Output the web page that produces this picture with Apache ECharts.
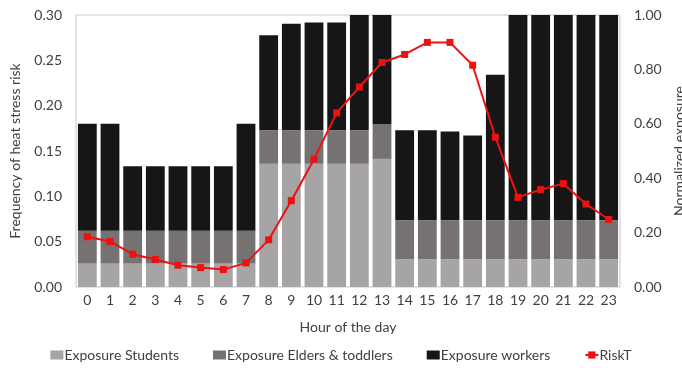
<!DOCTYPE html>
<html>
<head>
<meta charset="utf-8">
<script src="https://cdn.jsdelivr.net/npm/echarts@6/dist/echarts.min.js"></script>
<style>html,body{margin:0;padding:0;background:#fff;}#c{width:682px;height:368px;}</style>
</head>
<body>
<div id="c"></div>
<script>
var hours = ['0','1','2','3','4','5','6','7','8','9','10','11','12','13','14','15','16','17','18','19','20','21','22','23'];
var students = [0.086,0.086,0.086,0.086,0.086,0.086,0.086,0.086,0.453,0.453,0.453,0.453,0.453,0.471,0.102,0.102,0.102,0.102,0.102,0.102,0.102,0.102,0.102,0.102];
var elders = [0.121,0.121,0.121,0.121,0.121,0.121,0.121,0.121,0.123,0.123,0.123,0.123,0.123,0.126,0.144,0.144,0.144,0.144,0.144,0.144,0.144,0.144,0.144,0.144];
var workers = [0.393,0.393,0.237,0.237,0.237,0.237,0.237,0.393,0.350,0.392,0.396,0.396,0.500,0.500,0.330,0.330,0.326,0.311,0.534,0.800,0.800,0.800,0.800,0.800];
var riskT = [0.0554,0.0502,0.0362,0.0303,0.0240,0.0214,0.0192,0.0266,0.0520,0.0952,0.1410,0.1920,0.2206,0.2476,0.2565,0.2698,0.2698,0.2446,0.1653,0.0989,0.1074,0.1140,0.0915,0.0745];
var leftTicks = {min:0, max:0.30, interval:0.05};
var rightTicks = {min:0, max:1.00, interval:0.20};

var FONT = 'Lato';
var TXT = '#404040';
var FS = 14;
var chart = echarts.init(document.getElementById('c'), null, {renderer:'canvas'});
chart.setOption({
  animation:false,
  textStyle:{fontFamily:FONT},
  grid:{left:76, right:62, top:15, bottom:81, show:true, borderColor:'#c8c8c8', borderWidth:1, backgroundColor:'transparent', outerBoundsMode:'none', containLabel:false},
  legend:{
    bottom:1, left:'center', itemGap:34, itemWidth:13, itemHeight:9,
    textStyle:{fontFamily:FONT, fontSize:FS, color:TXT, padding:[0,0,0,-4]},
    data:[
      {name:'Exposure Students', icon:'rect'},
      {name:'Exposure Elders & toddlers', icon:'rect'},
      {name:'Exposure workers', icon:'rect'},
      {name:'RiskT'}
    ]
  },
  xAxis:{
    type:'category', data:hours,
    axisLine:{show:false}, axisTick:{show:false},
    axisLabel:{fontSize:FS, color:TXT, margin:6, fontFamily:FONT},
    name:'Hour of the day', nameLocation:'middle', nameGap:33,
    nameTextStyle:{fontSize:FS, color:TXT, fontFamily:FONT}
  },
  yAxis:[
    {type:'value', min:leftTicks.min, max:leftTicks.max, interval:leftTicks.interval,
     axisLine:{show:false}, axisTick:{show:false}, splitLine:{show:false},
     axisLabel:{fontSize:FS, color:TXT, margin:14, fontFamily:FONT, formatter:function(v){return v.toFixed(2);}},
     name:'Frequency of heat stress risk', nameLocation:'middle', nameGap:54, nameRotate:90,
     nameTextStyle:{fontSize:FS, color:TXT, fontFamily:FONT}},
    {type:'value', min:rightTicks.min, max:rightTicks.max, interval:rightTicks.interval,
     axisLine:{show:false}, axisTick:{show:false}, splitLine:{show:false},
     axisLabel:{fontSize:FS, color:TXT, margin:14, fontFamily:FONT, formatter:function(v){return v.toFixed(2);}},
     name:'Normalized exposure', nameLocation:'middle', nameGap:50, nameRotate:90,
     nameTextStyle:{fontSize:FS, color:TXT, fontFamily:FONT}}
  ],
  series:[
    {name:'Exposure Students', type:'bar', stack:'e', yAxisIndex:1, data:students, itemStyle:{color:'#a6a4a4'}, barCategoryGap:'17%', clip:true},
    {name:'Exposure Elders & toddlers', type:'bar', stack:'e', yAxisIndex:1, data:elders, itemStyle:{color:'#767272'}, barCategoryGap:'17%', clip:true},
    {name:'Exposure workers', type:'bar', stack:'e', yAxisIndex:1, data:workers, itemStyle:{color:'#161616'}, barCategoryGap:'17%', clip:true},
    {name:'RiskT', type:'line', yAxisIndex:0, data:riskT, symbol:'rect', symbolSize:7,
     lineStyle:{color:'#ee1111', width:2}, itemStyle:{color:'#ee1111'}, z:5}
  ]
});
</script>
</body>
</html>
